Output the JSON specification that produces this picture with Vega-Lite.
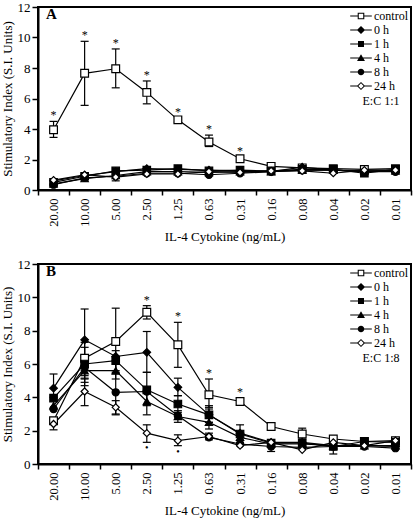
{
  "$schema": "https://vega.github.io/schema/vega-lite/v6.json",
  "padding": {"left": 0, "top": 0, "right": 2, "bottom": 0},
  "spacing": 12,
  "resolve": {"scale": {"shape": "independent", "fill": "independent", "size": "independent"}, "legend": {"shape": "independent"}},
  "config": {
    "font": "Liberation Serif",
    "view": {"stroke": "black", "strokeWidth": 2},
    "axis": {"domainColor": "black", "domainWidth": 2, "tickColor": "black", "tickWidth": 1.5, "labelColor": "black", "titleColor": "black", "labelFont": "Liberation Serif", "titleFont": "Liberation Serif", "grid": false, "labelFontSize": 13, "titleFontSize": 13, "titleFontWeight": "normal", "labelOverlap": false},
    "axisY": {"values": [0,2,4,6,8,10,12], "tickSize": 6, "labelPadding": 2, "titlePadding": 3},
    "legend": {"labelFont": "Liberation Serif", "titleFont": "Liberation Serif", "labelFontSize": 12, "titleFontSize": 12, "titleFontWeight": "normal", "labelColor": "black", "titleColor": "black"}
  },
  "datasets": {
    "A": [
      {"c":"20.00","s":"control","y":3.95,"lo":3.45,"hi":4.5,"st":1},
      {"c":"10.00","s":"control","y":7.65,"lo":5.55,"hi":9.75,"st":1},
      {"c":"5.00","s":"control","y":7.95,"lo":6.7,"hi":9.25,"st":1},
      {"c":"2.50","s":"control","y":6.4,"lo":5.65,"hi":7.15,"st":1},
      {"c":"1.25","s":"control","y":4.6,"lo":4.45,"hi":4.75,"st":1},
      {"c":"0.63","s":"control","y":3.15,"lo":2.85,"hi":3.6,"st":1},
      {"c":"0.31","s":"control","y":2.05,"lo":1.95,"hi":2.15,"st":1},
      {"c":"0.16","s":"control","y":1.55},
      {"c":"0.08","s":"control","y":1.45},
      {"c":"0.04","s":"control","y":1.4},
      {"c":"0.02","s":"control","y":1.35},
      {"c":"0.01","s":"control","y":1.4},
      {"c":"20.00","s":"0 h","y":0.6},
      {"c":"10.00","s":"0 h","y":0.95},
      {"c":"5.00","s":"0 h","y":1.2},
      {"c":"2.50","s":"0 h","y":1.4},
      {"c":"1.25","s":"0 h","y":1.35},
      {"c":"0.63","s":"0 h","y":1.3},
      {"c":"0.31","s":"0 h","y":1.25},
      {"c":"0.16","s":"0 h","y":1.2},
      {"c":"0.08","s":"0 h","y":1.5},
      {"c":"0.04","s":"0 h","y":1.3},
      {"c":"0.02","s":"0 h","y":1.2},
      {"c":"0.01","s":"0 h","y":1.3},
      {"c":"20.00","s":"1 h","y":0.5},
      {"c":"10.00","s":"1 h","y":0.9},
      {"c":"5.00","s":"1 h","y":1.25},
      {"c":"2.50","s":"1 h","y":1.3},
      {"c":"1.25","s":"1 h","y":1.4},
      {"c":"0.63","s":"1 h","y":1.25},
      {"c":"0.31","s":"1 h","y":1.3},
      {"c":"0.16","s":"1 h","y":1.25},
      {"c":"0.08","s":"1 h","y":1.35},
      {"c":"0.04","s":"1 h","y":1.35},
      {"c":"0.02","s":"1 h","y":1.1},
      {"c":"0.01","s":"1 h","y":1.35},
      {"c":"20.00","s":"4 h","y":0.4},
      {"c":"10.00","s":"4 h","y":0.75},
      {"c":"5.00","s":"4 h","y":0.95},
      {"c":"2.50","s":"4 h","y":1.2},
      {"c":"1.25","s":"4 h","y":1.2},
      {"c":"0.63","s":"4 h","y":1.15},
      {"c":"0.31","s":"4 h","y":1.2},
      {"c":"0.16","s":"4 h","y":1.2},
      {"c":"0.08","s":"4 h","y":1.3},
      {"c":"0.04","s":"4 h","y":1.3},
      {"c":"0.02","s":"4 h","y":1.25},
      {"c":"0.01","s":"4 h","y":1.25},
      {"c":"20.00","s":"8 h","y":0.35},
      {"c":"10.00","s":"8 h","y":0.8},
      {"c":"5.00","s":"8 h","y":0.9,"lo":0.6,"hi":1.2},
      {"c":"2.50","s":"8 h","y":1.1},
      {"c":"1.25","s":"8 h","y":1.1},
      {"c":"0.63","s":"8 h","y":1.0},
      {"c":"0.31","s":"8 h","y":1.1},
      {"c":"0.16","s":"8 h","y":1.2},
      {"c":"0.08","s":"8 h","y":1.3},
      {"c":"0.04","s":"8 h","y":1.3},
      {"c":"0.02","s":"8 h","y":1.2},
      {"c":"0.01","s":"8 h","y":1.2},
      {"c":"20.00","s":"24 h","y":0.65},
      {"c":"10.00","s":"24 h","y":1.0},
      {"c":"5.00","s":"24 h","y":0.85},
      {"c":"2.50","s":"24 h","y":1.05},
      {"c":"1.25","s":"24 h","y":1.05},
      {"c":"0.63","s":"24 h","y":1.2},
      {"c":"0.31","s":"24 h","y":1.15},
      {"c":"0.16","s":"24 h","y":1.25},
      {"c":"0.08","s":"24 h","y":1.25},
      {"c":"0.04","s":"24 h","y":1.1},
      {"c":"0.02","s":"24 h","y":1.3},
      {"c":"0.01","s":"24 h","y":1.3}
    ],
    "B": [
      {"c":"20.00","s":"control","y":2.6},
      {"c":"10.00","s":"control","y":6.35,"lo":5.3,"hi":7.3},
      {"c":"5.00","s":"control","y":7.35,"lo":5.4,"hi":9.35},
      {"c":"2.50","s":"control","y":9.1,"lo":8.7,"hi":9.5,"st":1},
      {"c":"1.25","s":"control","y":7.15,"lo":5.8,"hi":8.5,"st":1},
      {"c":"0.63","s":"control","y":4.15,"lo":3.4,"hi":5.1,"st":1},
      {"c":"0.31","s":"control","y":3.75,"lo":3.55,"hi":3.95,"st":1},
      {"c":"0.16","s":"control","y":2.25,"lo":2.05,"hi":2.45},
      {"c":"0.08","s":"control","y":1.8,"lo":1.5,"hi":2.15},
      {"c":"0.04","s":"control","y":1.5},
      {"c":"0.02","s":"control","y":1.35},
      {"c":"0.01","s":"control","y":1.4},
      {"c":"20.00","s":"0 h","y":4.55,"lo":4.0,"hi":5.4},
      {"c":"10.00","s":"0 h","y":7.45,"lo":5.6,"hi":9.3},
      {"c":"5.00","s":"0 h","y":6.45},
      {"c":"2.50","s":"0 h","y":6.7,"lo":5.5,"hi":7.95},
      {"c":"1.25","s":"0 h","y":4.6,"lo":4.1,"hi":5.15},
      {"c":"0.63","s":"0 h","y":2.95,"lo":2.5,"hi":3.5},
      {"c":"0.31","s":"0 h","y":1.85},
      {"c":"0.16","s":"0 h","y":1.3},
      {"c":"0.08","s":"0 h","y":1.3},
      {"c":"0.04","s":"0 h","y":1.1},
      {"c":"0.02","s":"0 h","y":1.1},
      {"c":"0.01","s":"0 h","y":1.05},
      {"c":"20.00","s":"1 h","y":3.95},
      {"c":"10.00","s":"1 h","y":6.0,"lo":4.9,"hi":7.0},
      {"c":"5.00","s":"1 h","y":6.2,"lo":5.6,"hi":6.8},
      {"c":"2.50","s":"1 h","y":4.45,"lo":3.5,"hi":5.5},
      {"c":"1.25","s":"1 h","y":3.6,"lo":3.1,"hi":4.1},
      {"c":"0.63","s":"1 h","y":2.95,"lo":2.5,"hi":3.3},
      {"c":"0.31","s":"1 h","y":1.8,"lo":1.3,"hi":2.35},
      {"c":"0.16","s":"1 h","y":1.25},
      {"c":"0.08","s":"1 h","y":1.25},
      {"c":"0.04","s":"1 h","y":1.05,"lo":0.6,"hi":1.4},
      {"c":"0.02","s":"1 h","y":1.35},
      {"c":"0.01","s":"1 h","y":1.3},
      {"c":"20.00","s":"4 h","y":3.5},
      {"c":"10.00","s":"4 h","y":5.6,"lo":4.7,"hi":6.5},
      {"c":"5.00","s":"4 h","y":5.6,"lo":5.1,"hi":6.2},
      {"c":"2.50","s":"4 h","y":3.75,"lo":2.95,"hi":4.4},
      {"c":"1.25","s":"4 h","y":2.85,"lo":2.5,"hi":3.2},
      {"c":"0.63","s":"4 h","y":2.5,"lo":2.1,"hi":2.9},
      {"c":"0.31","s":"4 h","y":1.6},
      {"c":"0.16","s":"4 h","y":1.2},
      {"c":"0.08","s":"4 h","y":1.2},
      {"c":"0.04","s":"4 h","y":1.1},
      {"c":"0.02","s":"4 h","y":1.1},
      {"c":"0.01","s":"4 h","y":1.1},
      {"c":"20.00","s":"8 h","y":3.3},
      {"c":"10.00","s":"8 h","y":5.8,"lo":5.1,"hi":6.4},
      {"c":"5.00","s":"8 h","y":4.3,"lo":3.0,"hi":5.5},
      {"c":"2.50","s":"8 h","y":4.35},
      {"c":"1.25","s":"8 h","y":2.9},
      {"c":"0.63","s":"8 h","y":1.6},
      {"c":"0.31","s":"8 h","y":1.2},
      {"c":"0.16","s":"8 h","y":1.05,"lo":0.75,"hi":1.35},
      {"c":"0.08","s":"8 h","y":1.0},
      {"c":"0.04","s":"8 h","y":1.05},
      {"c":"0.02","s":"8 h","y":1.05},
      {"c":"0.01","s":"8 h","y":0.95},
      {"c":"20.00","s":"24 h","y":2.4,"lo":2.05,"hi":2.7},
      {"c":"10.00","s":"24 h","y":4.35,"lo":3.5,"hi":5.15},
      {"c":"5.00","s":"24 h","y":3.4,"lo":2.95,"hi":3.8},
      {"c":"2.50","s":"24 h","y":1.85,"lo":1.3,"hi":2.35,"dot":1},
      {"c":"1.25","s":"24 h","y":1.4,"lo":1.1,"hi":1.75,"dot":1},
      {"c":"0.63","s":"24 h","y":1.65,"lo":1.45,"hi":1.85},
      {"c":"0.31","s":"24 h","y":1.1},
      {"c":"0.16","s":"24 h","y":1.3},
      {"c":"0.08","s":"24 h","y":0.85},
      {"c":"0.04","s":"24 h","y":1.3},
      {"c":"0.02","s":"24 h","y":1.1},
      {"c":"0.01","s":"24 h","y":1.4}
    ]
  },
  "vconcat": [
    {
      "width": 373, "height": 183,
      "data": {"name": "A"},
      "title": {"text": "A", "anchor": "start", "frame": "group", "offset": -21, "dx": 8, "fontSize": 15, "fontWeight": "bold", "font": "Liberation Serif", "color": "black"},
      "resolve": {"scale": {"shape": "independent"}},
      "encoding": {
        "x": {"field": "c", "type": "nominal", "sort": null,
          "scale": {"domain": ["20.00","10.00","5.00","2.50","1.25","0.63","0.31","0.16","0.08","0.04","0.02","0.01"], "paddingInner": 0, "paddingOuter": 0},
          "axis": {"title": "IL-4 Cytokine (ng/mL)", "labelAngle": -90, "tickBand": "extent", "tickSize": 5, "labelPadding": 3, "titlePadding": 4, "labelFontSize": 12.5}}
      },
      "layer": [
        {"mark": {"type": "line", "color": "black", "strokeWidth": 1.2},
         "encoding": {"y": {"field": "y", "type": "quantitative", "scale": {"domain": [0, 12]}, "title": "Stimulatory Index (S.I. Units)"}, "detail": {"field": "s"}}},
        {"transform": [{"filter": "isValid(datum.lo)"}],
         "mark": {"type": "rule", "color": "black", "strokeWidth": 1.2},
         "encoding": {"y": {"field": "lo", "type": "quantitative", "title": "Stimulatory Index (S.I. Units)"}, "y2": {"field": "hi"}}},
        {"transform": [{"filter": "isValid(datum.lo)"}],
         "mark": {"type": "tick", "color": "black", "size": 8, "thickness": 1.2, "opacity": 1},
         "encoding": {"y": {"field": "lo", "type": "quantitative", "title": "Stimulatory Index (S.I. Units)"}}},
        {"transform": [{"filter": "isValid(datum.hi)"}],
         "mark": {"type": "tick", "color": "black", "size": 8, "thickness": 1.2, "opacity": 1},
         "encoding": {"y": {"field": "hi", "type": "quantitative", "title": "Stimulatory Index (S.I. Units)"}}},
        {"mark": {"type": "point", "filled": true, "stroke": "black", "strokeWidth": 1.2, "opacity": 1},
         "encoding": {
           "y": {"field": "y", "type": "quantitative", "title": "Stimulatory Index (S.I. Units)"},
           "shape": {"field": "s", "type": "nominal",
             "scale": {"domain": ["control","0 h","1 h","4 h","8 h","24 h"], "range": ["square","diamond","square","triangle-up","circle","diamond"]}, "legend": null},
           "size": {"field": "s", "type": "nominal", "scale": {"domain": ["control","0 h","1 h","4 h","8 h","24 h"], "range": [60,50,45,45,45,50]}, "legend": null},
           "fill": {"field": "s", "type": "nominal", "scale": {"domain": ["control","0 h","1 h","4 h","8 h","24 h"], "range": ["white","black","black","black","black","white"]}, "legend": null}
         }},
        {"transform": [{"filter": "false"}],
         "mark": {"type": "point", "filled": true, "color": "black", "strokeWidth": 0, "opacity": 1},
         "encoding": {
           "y": {"field": "y", "type": "quantitative", "title": "Stimulatory Index (S.I. Units)"},
           "shape": {"field": "s", "type": "nominal",
             "scale": {"domain": ["control","0 h","1 h","4 h","8 h","24 h"], "range": [
               "M-1.8,-0.1H-0.55V0.1H-1.8ZM0.55,-0.1H1.8V0.1H0.55ZM-0.55,-0.55H0.55V0.55H-0.55ZM-0.37,-0.37V0.37H0.37V-0.37Z",
               "M-1.8,-0.1H1.8V0.1H-1.8ZM0,-0.68L0.68,0L0,0.68L-0.68,0Z",
               "M-1.8,-0.1H1.8V0.1H-1.8ZM-0.5,-0.5H0.5V0.5H-0.5Z",
               "M-1.8,-0.1H1.8V0.1H-1.8ZM0,-0.62L0.66,0.5H-0.66Z",
               "M-1.8,-0.1H1.8V0.1H-1.8ZM-0.55,0A0.55,0.55 0 1,1 0.55,0A0.55,0.55 0 1,1 -0.55,0Z",
               "M-1.8,-0.1H-0.6V0.1H-1.8ZM0.6,-0.1H1.8V0.1H0.6ZM0,-0.68L0.68,0L0,0.68L-0.68,0ZM0,-0.44L-0.44,0L0,0.44L0.44,0Z"]},
             "legend": {"orient": "top-right", "offset": 3, "padding": 0, "title": "E:C 1:1", "titleOrient": "bottom", "titleAnchor": "middle", "titlePadding": 4, "rowPadding": 2, "labelOffset": 7, "symbolSize": 144, "symbolFillColor": "black", "symbolStrokeWidth": 0}}
         }},
        {"transform": [{"filter": "datum.st === 1"}],
         "mark": {"type": "text", "text": "*", "dy": -6, "fontSize": 12, "font": "Liberation Serif", "color": "black"},
         "encoding": {"y": {"field": "hi", "type": "quantitative", "title": "Stimulatory Index (S.I. Units)"}}}
      ]
    },
    {
      "width": 373, "height": 200,
      "data": {"name": "B"},
      "title": {"text": "B", "anchor": "start", "frame": "group", "offset": -21, "dx": 8, "fontSize": 15, "fontWeight": "bold", "font": "Liberation Serif", "color": "black"},
      "resolve": {"scale": {"shape": "independent"}},
      "encoding": {
        "x": {"field": "c", "type": "nominal", "sort": null,
          "scale": {"domain": ["20.00","10.00","5.00","2.50","1.25","0.63","0.31","0.16","0.08","0.04","0.02","0.01"], "paddingInner": 0, "paddingOuter": 0},
          "axis": {"title": "IL-4 Cytokine (ng/mL)", "labelAngle": -90, "tickBand": "extent", "tickSize": 5, "labelPadding": 3, "titlePadding": 4, "labelFontSize": 12.5}}
      },
      "layer": [
        {"mark": {"type": "line", "color": "black", "strokeWidth": 1.2},
         "encoding": {"y": {"field": "y", "type": "quantitative", "scale": {"domain": [0, 12]}, "title": "Stimulatory Index (S.I. Units)"}, "detail": {"field": "s"}}},
        {"transform": [{"filter": "isValid(datum.lo)"}],
         "mark": {"type": "rule", "color": "black", "strokeWidth": 1.2},
         "encoding": {"y": {"field": "lo", "type": "quantitative", "title": "Stimulatory Index (S.I. Units)"}, "y2": {"field": "hi"}}},
        {"transform": [{"filter": "isValid(datum.lo)"}],
         "mark": {"type": "tick", "color": "black", "size": 8, "thickness": 1.2, "opacity": 1},
         "encoding": {"y": {"field": "lo", "type": "quantitative", "title": "Stimulatory Index (S.I. Units)"}}},
        {"transform": [{"filter": "isValid(datum.hi)"}],
         "mark": {"type": "tick", "color": "black", "size": 8, "thickness": 1.2, "opacity": 1},
         "encoding": {"y": {"field": "hi", "type": "quantitative", "title": "Stimulatory Index (S.I. Units)"}}},
        {"mark": {"type": "point", "filled": true, "stroke": "black", "strokeWidth": 1.2, "opacity": 1},
         "encoding": {
           "y": {"field": "y", "type": "quantitative", "title": "Stimulatory Index (S.I. Units)"},
           "shape": {"field": "s", "type": "nominal",
             "scale": {"domain": ["control","0 h","1 h","4 h","8 h","24 h"], "range": ["square","diamond","square","triangle-up","circle","diamond"]}, "legend": null},
           "size": {"field": "s", "type": "nominal", "scale": {"domain": ["control","0 h","1 h","4 h","8 h","24 h"], "range": [60,50,45,45,45,50]}, "legend": null},
           "fill": {"field": "s", "type": "nominal", "scale": {"domain": ["control","0 h","1 h","4 h","8 h","24 h"], "range": ["white","black","black","black","black","white"]}, "legend": null}
         }},
        {"transform": [{"filter": "false"}],
         "mark": {"type": "point", "filled": true, "color": "black", "strokeWidth": 0, "opacity": 1},
         "encoding": {
           "y": {"field": "y", "type": "quantitative", "title": "Stimulatory Index (S.I. Units)"},
           "shape": {"field": "s", "type": "nominal",
             "scale": {"domain": ["control","0 h","1 h","4 h","8 h","24 h"], "range": [
               "M-1.8,-0.1H-0.55V0.1H-1.8ZM0.55,-0.1H1.8V0.1H0.55ZM-0.55,-0.55H0.55V0.55H-0.55ZM-0.37,-0.37V0.37H0.37V-0.37Z",
               "M-1.8,-0.1H1.8V0.1H-1.8ZM0,-0.68L0.68,0L0,0.68L-0.68,0Z",
               "M-1.8,-0.1H1.8V0.1H-1.8ZM-0.5,-0.5H0.5V0.5H-0.5Z",
               "M-1.8,-0.1H1.8V0.1H-1.8ZM0,-0.62L0.66,0.5H-0.66Z",
               "M-1.8,-0.1H1.8V0.1H-1.8ZM-0.55,0A0.55,0.55 0 1,1 0.55,0A0.55,0.55 0 1,1 -0.55,0Z",
               "M-1.8,-0.1H-0.6V0.1H-1.8ZM0.6,-0.1H1.8V0.1H0.6ZM0,-0.68L0.68,0L0,0.68L-0.68,0ZM0,-0.44L-0.44,0L0,0.44L0.44,0Z"]},
             "legend": {"orient": "top-right", "offset": 3, "padding": 0, "title": "E:C 1:8", "titleOrient": "bottom", "titleAnchor": "middle", "titlePadding": 4, "rowPadding": 2, "labelOffset": 7, "symbolSize": 144, "symbolFillColor": "black", "symbolStrokeWidth": 0}}
         }},
        {"transform": [{"filter": "datum.st === 1"}],
         "mark": {"type": "text", "text": "*", "dy": -6, "fontSize": 12, "font": "Liberation Serif", "color": "black"},
         "encoding": {"y": {"field": "hi", "type": "quantitative", "title": "Stimulatory Index (S.I. Units)"}}},
        {"transform": [{"filter": "datum.dot === 1"}],
         "mark": {"type": "text", "text": "•", "dy": 6, "fontSize": 10, "font": "Liberation Serif", "color": "black"},
         "encoding": {"y": {"field": "lo", "type": "quantitative", "title": "Stimulatory Index (S.I. Units)"}}}
      ]
    }
  ]
}
